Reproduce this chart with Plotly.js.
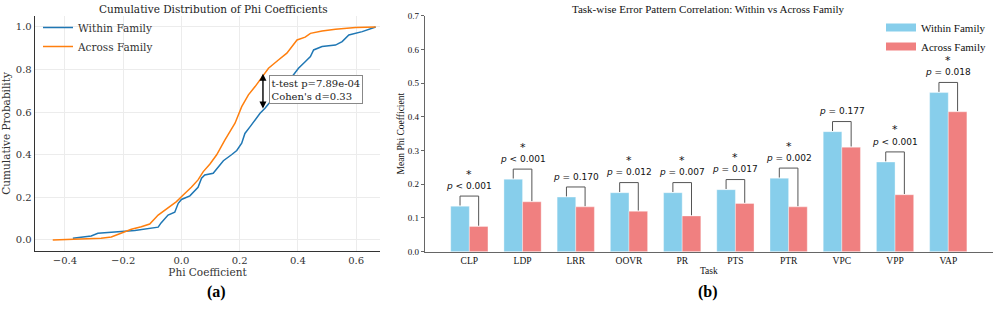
<!DOCTYPE html>
<html>
<head>
<meta charset="utf-8">
<script src="https://cdn.plot.ly/plotly-3.0.1.min.js"></script>
<style>html,body{margin:0;padding:0;background:#fff;}#chart{width:997px;height:310px;}</style>
</head>
<body>
<div id="chart"></div>
<script>
// ---- Panel (a): empirical CDF of phi coefficients ----
const withinX = [-0.373,-0.31,-0.287,-0.24,-0.16,-0.08,-0.07,-0.046,-0.023,-0.011,0.0,0.029,0.057,0.069,0.08,0.109,0.126,0.144,0.172,0.19,0.207,0.218,0.236,0.253,0.27,0.287,0.31,0.345,0.379,0.402,0.425,0.443,0.454,0.483,0.529,0.552,0.575,0.621,0.667];
const withinY = [0.008,0.019,0.031,0.035,0.044,0.06,0.08,0.117,0.13,0.172,0.19,0.207,0.247,0.29,0.305,0.313,0.341,0.372,0.40,0.42,0.454,0.50,0.532,0.563,0.595,0.618,0.657,0.704,0.767,0.806,0.837,0.861,0.892,0.908,0.915,0.931,0.962,0.978,1.0];
const acrossX = [-0.442,-0.333,-0.276,-0.241,-0.207,-0.172,-0.138,-0.109,-0.08,-0.046,-0.017,0.006,0.034,0.057,0.075,0.098,0.121,0.149,0.184,0.207,0.23,0.253,0.282,0.299,0.333,0.362,0.397,0.425,0.443,0.483,0.529,0.598,0.667];
const acrossY = [0.0,0.005,0.008,0.014,0.031,0.05,0.062,0.075,0.117,0.149,0.18,0.211,0.247,0.282,0.321,0.357,0.40,0.469,0.548,0.626,0.681,0.72,0.775,0.806,0.845,0.877,0.939,0.952,0.97,0.981,0.989,0.998,1.0];
const arrowX = 0.28, arrowTop = 0.78, arrowBottom = 0.61;
const statText = "t-test p=7.89e-04<br>Cohen's d=0.33";

// ---- Panel (b): task-wise means ----
const tasks = ["CLP","LDP","LRR","OOVR","PR","PTS","PTR","VPC","VPP","VAP"];
const withinMean = [0.135,0.215,0.162,0.175,0.175,0.184,0.218,0.356,0.266,0.472];
const acrossMean = [0.075,0.148,0.133,0.120,0.106,0.143,0.133,0.310,0.169,0.415];
const pLabels = ["p &lt; 0.001","p &lt; 0.001","p = 0.170","p = 0.012","p = 0.007","p = 0.017","p = 0.002","p = 0.177","p &lt; 0.001","p = 0.018"];
const significant = [true,true,false,true,true,true,true,false,true,true];

const serifA = "DejaVu Serif";
const serifB = "Liberation Serif";
const colWithin = '#87CEEB', colAcross = '#F08080';
const idx = tasks.map((_, i) => i);
const half = 0.175;

// bracket lines built from the bar values
const bx = [], by = [];
const tops = [];
idx.forEach(i => {
  const top = Math.max(withinMean[i], acrossMean[i]) + 0.03;
  tops.push(top);
  bx.push(i - half, i - half, i + half, i + half, null);
  by.push(withinMean[i] + 0.002, top, top, acrossMean[i] + 0.002, null);
});

const traces = [
  {x: withinX, y: withinY, type: 'scatter', mode: 'lines', name: 'Within Family',
   line: {color: '#1f77b4', width: 1.5}, xaxis: 'x', yaxis: 'y', legend: 'legend'},
  {x: acrossX, y: acrossY, type: 'scatter', mode: 'lines', name: 'Across Family',
   line: {color: '#ff7f0e', width: 1.5}, xaxis: 'x', yaxis: 'y', legend: 'legend'},
  {x: idx, y: withinMean, type: 'bar', name: 'Within Family', showlegend: false,
   marker: {color: colWithin, line: {color: 'rgba(255,255,255,0.6)', width: 0.6}},
   xaxis: 'x2', yaxis: 'y2'},
  {x: idx, y: acrossMean, type: 'bar', name: 'Across Family', showlegend: false,
   marker: {color: colAcross, line: {color: 'rgba(255,255,255,0.6)', width: 0.6}},
   xaxis: 'x2', yaxis: 'y2'},
  {x: bx, y: by, type: 'scatter', mode: 'lines', showlegend: false, hoverinfo: 'skip',
   line: {color: '#555555', width: 1}, xaxis: 'x2', yaxis: 'y2', connectgaps: false},
  // legend patches for the bar panel (wide, flat swatches like the reference)
  {x: [null], y: [null], type: 'scatter', mode: 'lines', name: 'Within Family',
   line: {color: colWithin, width: 8}, xaxis: 'x2', yaxis: 'y2', legend: 'legend2'},
  {x: [null], y: [null], type: 'scatter', mode: 'lines', name: 'Across Family',
   line: {color: colAcross, width: 8}, xaxis: 'x2', yaxis: 'y2', legend: 'legend2'}
];

const annotations = [
  {text: 'Cumulative Distribution of Phi Coefficients', xref: 'paper', yref: 'paper',
   x: 213/997, y: 1 - 9/310, xanchor: 'center', yanchor: 'middle', showarrow: false, font: {family: serifA, size: 10.5, color: '#222'}},
  {text: 'Task-wise Error Pattern Correlation: Within vs Across Family', xref: 'paper', yref: 'paper',
   x: 708/997, y: 1 - 9/310, xanchor: 'center', yanchor: 'middle', showarrow: false, font: {family: serifB, size: 11, color: '#111'}},
  {text: '<b>(a)</b>', xref: 'paper', yref: 'paper', x: 216/997, y: 1 - 292/310, xanchor: 'center', yanchor: 'middle',
   showarrow: false, font: {family: serifB, size: 16, color: '#000'}},
  {text: '<b>(b)</b>', xref: 'paper', yref: 'paper', x: 708/997, y: 1 - 292/310, xanchor: 'center', yanchor: 'middle',
   showarrow: false, font: {family: serifB, size: 16, color: '#000'}},
  {x: arrowX, y: arrowTop, ax: arrowX, ay: arrowBottom, xref: 'x', yref: 'y', axref: 'x', ayref: 'y',
   showarrow: true, arrowhead: 2, startarrowhead: 2, arrowside: 'end+start', arrowsize: 1,
   arrowwidth: 1.4, arrowcolor: '#000', text: ''},
  {x: 0.302, y: 0.705, xref: 'x', yref: 'y', xanchor: 'left', yanchor: 'middle', showarrow: false,
   text: statText, align: 'left', bgcolor: '#fff', bordercolor: '#888', borderwidth: 1, borderpad: 1.5,
   font: {family: serifA, size: 10, color: '#222'}}
];
idx.forEach(i => {
  annotations.push({x: i, y: tops[i] + 0.01, xref: 'x2', yref: 'y2', xanchor: 'center', yanchor: 'bottom', showarrow: false,
    text: pLabels[i].replace(/^p/, '<i>p</i>'), font: {family: 'DejaVu Sans', size: 9, color: '#111'}});
  if (significant[i]) {
    annotations.push({x: i, y: tops[i] + 0.04, xref: 'x2', yref: 'y2', xanchor: 'center', yanchor: 'bottom', showarrow: false,
      text: '*', font: {family: 'DejaVu Sans', size: 11, color: '#111'}});
  }
});

const layout = {
  width: 997, height: 310,
  margin: {l: 0, r: 0, t: 0, b: 0},
  paper_bgcolor: '#fff', plot_bgcolor: '#fff',
  showlegend: true,
  barmode: 'group', bargap: 0.3, bargroupgap: 0,
  xaxis: {domain: [35/997, 380/997], anchor: 'y', range: [-0.503, 0.682], tickvals: [-0.4,-0.2,0,0.2,0.4,0.6],
    ticktext: ['\u22120.4','\u22120.2','0.0','0.2','0.4','0.6'],
    showgrid: true, gridcolor: '#ececec', gridwidth: 1, zeroline: false,
    showline: true, linecolor: '#333', linewidth: 1.3, ticks: '', ticklen: 0,
    tickfont: {family: serifA, size: 10, color: '#333'},
    title: {text: 'Phi Coefficient', font: {family: serifA, size: 10.5, color: '#333'}, standoff: 2}},
  yaxis: {domain: [(310-250.6)/310, (310-16.3)/310], anchor: 'x', range: [-0.05, 1.05], tickvals: [0,0.2,0.4,0.6,0.8,1.0],
    tickformat: '.1f', showgrid: true, gridcolor: '#ececec', gridwidth: 1, zeroline: false,
    showline: true, linecolor: '#333', linewidth: 1.3, ticks: '',
    tickfont: {family: serifA, size: 10, color: '#333'},
    title: {text: 'Cumulative Probability', font: {family: serifA, size: 10.5, color: '#333'}, standoff: 4}},
  xaxis2: {domain: [424.9/997, 992.7/997], anchor: 'y2', range: [-0.835, 9.835], tickvals: idx, ticktext: tasks,
    showgrid: false, zeroline: false, showline: true, linecolor: '#666', linewidth: 1, ticks: '',
    tickfont: {family: serifB, size: 9.5, color: '#111'},
    title: {text: 'Task', font: {family: serifB, size: 9.5, color: '#111'}, standoff: 2}},
  yaxis2: {domain: [(310-251.7)/310, (310-15.7)/310], anchor: 'x2', range: [0, 0.7], dtick: 0.1, tickformat: '.1f',
    showgrid: false, zeroline: false, showline: true, linecolor: '#666', linewidth: 1,
    ticks: 'outside', ticklen: 3, tickcolor: '#666',
    tickfont: {family: serifB, size: 9, color: '#111'},
    title: {text: 'Mean Phi Coefficient', font: {family: serifB, size: 9.5, color: '#111'}, standoff: 1}},
  legend: {x: 38/997, y: 1 - 13/310, xanchor: 'left', yanchor: 'top', bgcolor: 'rgba(0,0,0,0)',
    font: {family: serifA, size: 10.5, color: '#333'}, tracegroupgap: 0, itemwidth: 30},
  legend2: {x: 991/997, y: 1 - 13/310, xanchor: 'right', yanchor: 'top', bgcolor: 'rgba(0,0,0,0)',
    font: {family: serifB, size: 11, color: '#111'}, tracegroupgap: 0},
  annotations: annotations
};

Plotly.newPlot('chart', traces, layout, {displayModeBar: false, staticPlot: true});
</script>
</body>
</html>
